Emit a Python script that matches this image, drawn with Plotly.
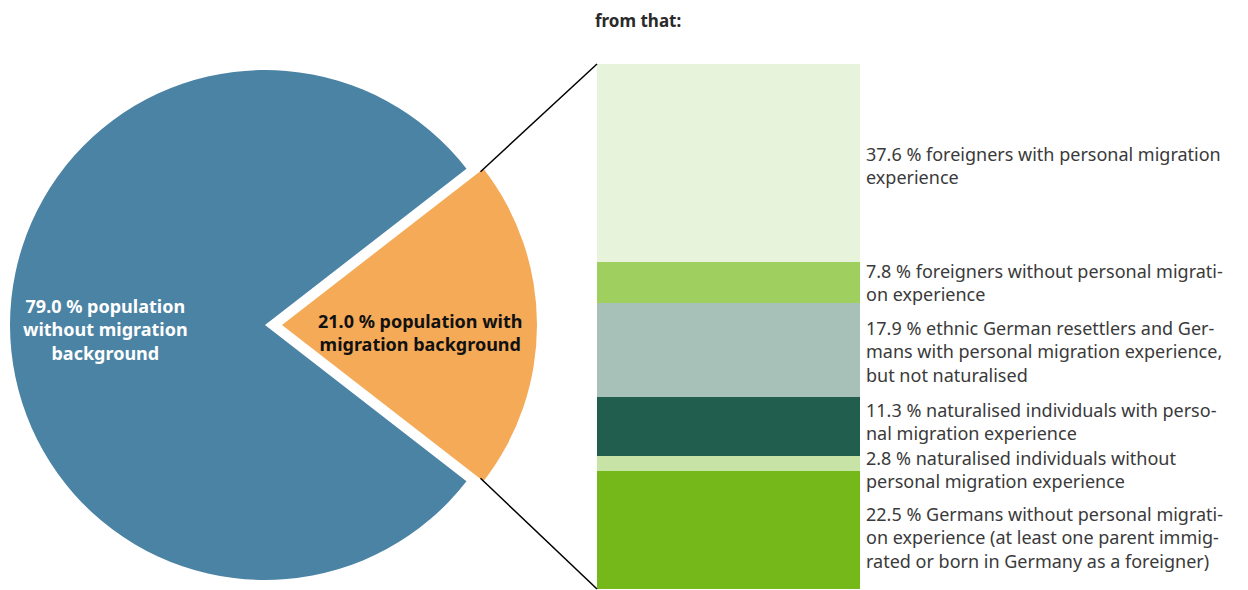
import math
import plotly.graph_objects as go

# ---- data ----
pie_labels = ["population with migration background", "population without migration background"]
pie_values = [21.0, 79.0]
pie_colors = ["#f5aa58", "#4b83a4"]

bar_labels = [
    "foreigners with personal migration<br>experience",
    "foreigners without personal migrati-<br>on experience",
    "ethnic German resettlers and Ger-<br>mans with personal migration experience,<br>but not naturalised",
    "naturalised individuals with perso-<br>nal migration experience",
    "naturalised individuals without<br>personal migration experience",
    "Germans without personal migrati-<br>on experience (at least one parent immig-<br>rated or born in Germany as a foreigner)",
]
bar_values = [37.6, 7.8, 17.9, 11.3, 2.8, 22.5]
bar_colors = ["#e8f3dc", "#9ecf5f", "#a7c0b8", "#225e4e", "#c7e3a6", "#74b819"]
label_yshift = [-3, 0, -2, 5, -6, -8]  # pixel nudges to avoid overlaps

W, H = 1248, 590
OFF = 8  # page body margin offset
FONT = "Noto Sans"
TXT = "#3a3a3a"

def px(x):
    return (x - OFF) / W

def py(y):
    return 1 - (y - OFF) / H

fig = go.Figure()

# pie geometry (pixels, reference frame)
cx, cy, r = 265, 325, 255
shift = 17
half = pie_values[0] * 3.6 / 2
rot = 90 - half

fig.add_trace(go.Pie(
    values=pie_values, labels=pie_labels, sort=False, direction="clockwise",
    rotation=rot, marker=dict(colors=["rgba(0,0,0,0)", pie_colors[1]], line=dict(width=0)),
    textinfo="none", hoverinfo="skip", showlegend=False,
    domain=dict(x=[px(cx - r), px(cx + r)], y=[py(cy + r), py(cy - r)]),
))
fig.add_trace(go.Pie(
    values=pie_values, labels=pie_labels, sort=False, direction="clockwise",
    rotation=rot, marker=dict(colors=[pie_colors[0], "rgba(0,0,0,0)"], line=dict(width=0)),
    textinfo="none", hoverinfo="skip", showlegend=False,
    domain=dict(x=[px(cx + shift - r), px(cx + shift + r)], y=[py(cy + r), py(cy - r)]),
))

for lab, v, c in zip(bar_labels, bar_values, bar_colors):
    fig.add_trace(go.Bar(
        x=[""], y=[v], marker=dict(color=c, line=dict(width=0)),
        hoverinfo="skip", showlegend=False, width=1,
    ))

total = sum(bar_values)
bar_x0, bar_x1, bar_y0, bar_y1 = 597, 860, 64, 589

cum = 0
for lab, v, ys in zip(bar_labels, bar_values, label_yshift):
    mid = cum + v / 2
    cum += v
    fig.add_annotation(
        x=0.5, xref="x", y=mid, yref="y", xanchor="left", yanchor="middle",
        xshift=4, yshift=ys, align="left", showarrow=False,
        text=f"{v:.1f} % {lab}", font=dict(family=FONT, size=18, color=TXT),
    )

fig.add_annotation(
    x=px(105), y=py(329), xref="paper", yref="paper", showarrow=False, align="center",
    xanchor="center", yanchor="middle",
    text=f"<b>{pie_values[1]:.1f} % population<br>without migration<br>background</b>",
    font=dict(family=FONT, size=18, color="white"),
)
fig.add_annotation(
    x=px(420), y=py(332), xref="paper", yref="paper", showarrow=False, align="center",
    xanchor="center", yanchor="middle",
    text=f"<b>{pie_values[0]:.1f} % population with<br>migration background</b>",
    font=dict(family=FONT, size=18, color="#111111"),
)
fig.add_annotation(
    x=px(593), y=py(21), xref="paper", yref="paper", showarrow=False,
    xanchor="left", yanchor="middle",
    text="<b>from that:</b>", font=dict(family=FONT, size=17, color="#2a2a2a"),
)

ocx = cx + shift
for sgn, by in ((1, bar_y0), (-1, bar_y1)):
    ax = ocx + r * math.cos(math.radians(half))
    ay = cy - sgn * r * math.sin(math.radians(half))
    fig.add_shape(type="line", xref="paper", yref="paper",
                  x0=px(ax - 3), y0=py(ay + sgn * 3), x1=px(bar_x0), y1=py(by),
                  line=dict(color="black", width=1.5))

fig.update_layout(
    width=W, height=H, margin=dict(l=0, r=0, t=0, b=0),
    paper_bgcolor="white", plot_bgcolor="white",
    barmode="stack", bargap=0,
    xaxis=dict(domain=[px(bar_x0), px(bar_x1)], range=[-0.5, 0.5], visible=False, fixedrange=True),
    yaxis=dict(domain=[max(0, py(bar_y1)), py(bar_y0)], range=[total, 0], visible=False, fixedrange=True),
)

fig.write_html("out.html")
